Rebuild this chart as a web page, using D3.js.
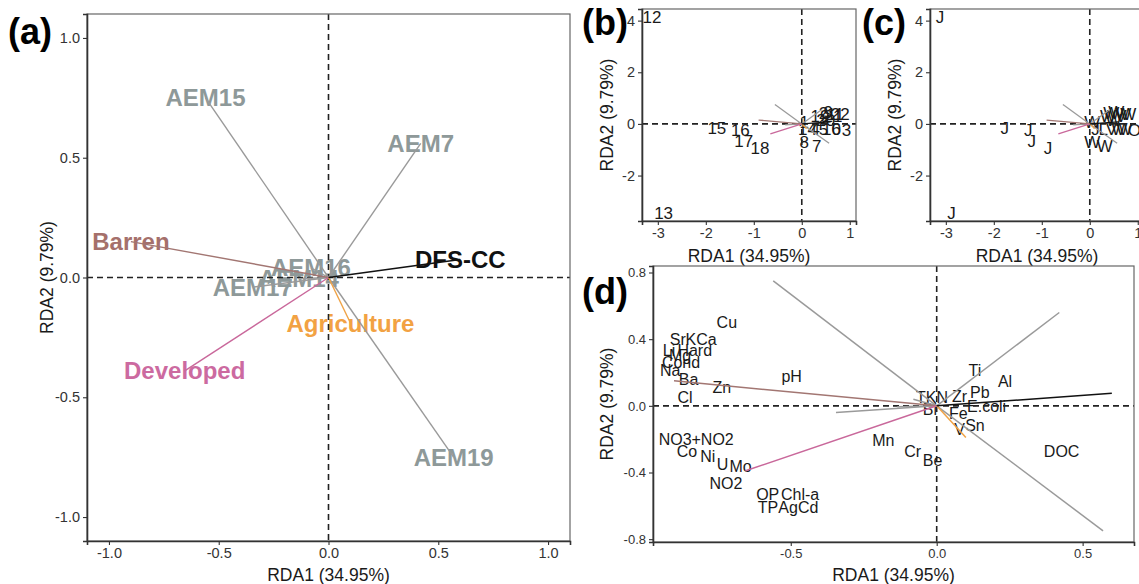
<!DOCTYPE html>
<html><head><meta charset="utf-8">
<script src="https://cdn.jsdelivr.net/npm/d3@7"></script>
<style>body{margin:0;background:#fff}svg{display:block}</style>
</head><body>
<svg id="chart" width="1139" height="584"></svg>
<script>
// ---------- DATA ----------
const arrowNames = ["AEM15","AEM7","AEM19","AEM16","AEM14","AEM17","Barren","Developed","Agriculture","DFS-CC"];
const arrowX = [-0.56, 0.42, 0.57, -0.08, -0.135, -0.345, -0.90, -0.655, 0.10, 0.60];
const arrowY = [0.75, 0.56, -0.75, 0.04, -0.005, -0.04, 0.15, -0.39, -0.19, 0.075];
const arrowKind = ["aem","aem","aem","aem","aem","aem","barren","developed","agriculture","dfs"];

const siteIds    = ["1","2","3","4","5","6","7","8","9","10","11","12","13","14","15","16","17","18","19","20","21","22"];
const siteGroups = ["W","W","O","L","V","W","W","W","W","W","W","J","J","J","J","J","J","J","W","W","V","W"];
const siteX = [0.05, 0.45, 0.93, 0.28, 0.45, 0.72, 0.31, 0.05, 0.55, 0.62, 0.70, -3.12, -2.88, 0.12, -1.77, -1.28, -1.21, -0.87, 0.38, 0.50, 0.65, 0.80];
const siteY = [0.05, 0.40, -0.25, -0.22, -0.22, -0.20, -0.88, -0.72, 0.45, -0.22, 0.35, 4.14, -3.46, -0.22, -0.17, -0.26, -0.69, -0.94, 0.30, 0.15, 0.30, 0.35];

const varNames = ["Cu","Sr","K","Ca","Li","Hard","Mg","Cond","Na","Ba","Zn","Cl","pH","NO3+NO2","Co","Ni","U","Mo","NO2","OP","Chl-a","TP","Ag","Cd",
                  "Ti","Al","TKN","Zr","Pb","E.coli","Bi","Fe","Sn","V","Mn","Cr","Be","DOC"];
const varX = [-0.719,-0.887,-0.842,-0.789,-0.917,-0.829,-0.879,-0.876,-0.913,-0.850,-0.736,-0.862,-0.497,-0.824,-0.856,-0.784,-0.734,-0.672,-0.722,-0.579,-0.468,-0.578,-0.509,-0.440,
              0.131,0.234,-0.016,0.078,0.148,0.171,-0.023,0.074,0.131,0.078,-0.183,-0.082,-0.014,0.428];
const varY = [0.498,0.400,0.400,0.400,0.335,0.335,0.300,0.258,0.215,0.158,0.110,0.050,0.178,-0.200,-0.276,-0.302,-0.352,-0.362,-0.466,-0.532,-0.532,-0.607,-0.607,-0.607,
              0.214,0.144,0.050,0.058,0.078,-0.002,-0.022,-0.046,-0.116,-0.142,-0.210,-0.276,-0.326,-0.276];

const aTicks = [-1, -0.5, 0, 0.5, 1];
const aTickLabels = ["-1.0","-0.5","0.0","0.5","1.0"];
const bxTicks = [-3,-2,-1,0,1];
const bxTickLabels = ["-3","-2","-1","0","1"];
const byTicks = [-2,0,2,4];
const byTickLabels = ["-2","0","2","4"];
const dxTicks = [-0.5,0,0.5];
const dxTickLabels = ["-0.5","0.0","0.5"];
const dyTicks = [-0.8,-0.4,0,0.4,0.8];
const dyTickLabels = ["-0.8","-0.4","0.0","0.4","0.8"];

const xTitle = "RDA1 (34.95%)";
const yTitle = "RDA2 (9.79%)";

// ---------- STYLE ----------
const FONT = "'Liberation Sans', Arial, Helvetica, sans-serif";
const lineCol = {aem:"#9a9a9a", barren:"#a27672", developed:"#c9689b", agriculture:"#f0a346", dfs:"#111"};
const textCol = {aem:"#8e9999", barren:"#a5706b", developed:"#cc6aa0", agriculture:"#f2a243", dfs:"#111"};

const svg = d3.select("#chart").style("font-family", FONT);
const arrows = arrowNames.map((n,i)=>({name:n, x:arrowX[i], y:arrowY[i], kind:arrowKind[i]}));
const sites = siteIds.map((s,i)=>({id:s, g:siteGroups[i], x:siteX[i], y:siteY[i]}));
const vars = varNames.map((n,i)=>({name:n, x:varX[i], y:varY[i]}));

function makePanel(c) {
  const g = svg.append("g");
  const clipId = "clip" + c.id;
  svg.append("clipPath").attr("id", clipId).append("rect")
    .attr("x", c.x0).attr("y", c.y0).attr("width", c.x1 - c.x0).attr("height", c.y1 - c.y0);
  const x = d3.scaleLinear().domain(c.xdom).range([c.x0, c.x1]);
  const y = d3.scaleLinear().domain(c.ydom).range([c.y1, c.y0]);
  const inner = g.append("g").attr("clip-path", `url(#${clipId})`);
  g.append("rect").attr("x", c.x0).attr("y", c.y0).attr("width", c.x1 - c.x0).attr("height", c.y1 - c.y0)
    .attr("fill", "none").attr("stroke", "#666").attr("stroke-width", 1.2);
  const xa = g.append("g").attr("transform", `translate(0,${c.y1})`)
    .call(d3.axisBottom(x).tickValues(c.xt).tickFormat((d,i)=>c.xtl[i]).tickSizeOuter(0).tickSize(4).tickPadding(3));
  const ya = g.append("g").attr("transform", `translate(${c.x0},0)`)
    .call(d3.axisLeft(y).tickValues(c.yt).tickFormat((d,i)=>c.ytl[i]).tickSizeOuter(0).tickSize(4).tickPadding(3));
  [xa, ya].forEach(a => {
    a.select(".domain").attr("stroke", "#333").attr("stroke-width", 1.6);
    a.selectAll(".tick line").attr("stroke", "#333").attr("stroke-width", 1.1);
    a.selectAll(".tick text").attr("fill", "#333").style("font-size", c.tickFs + "px").style("font-family", FONT);
  });
  g.append("text").attr("x", (c.x0 + c.x1) / 2).attr("y", c.xtY).attr("text-anchor", "middle")
    .attr("dominant-baseline", "central").style("font-size", "17.5px").attr("fill", "#1a1a1a").text(xTitle);
  g.append("text").attr("transform", `translate(${c.ytX},${(c.y0 + c.y1) / 2}) rotate(-90)`).attr("text-anchor", "middle")
    .attr("dominant-baseline", "central").style("font-size", "17.5px").attr("fill", "#1a1a1a").text(yTitle);
  g.append("text").attr("x", c.lx).attr("y", c.ly).style("font-size", "36px").style("font-weight", "bold")
    .attr("fill", "#000").text(c.letter);
  return {x, y, inner};
}

function drawZeroLines(p, c) {
  p.inner.append("line").attr("x1", c.x0).attr("x2", c.x1).attr("y1", p.y(0)).attr("y2", p.y(0))
    .attr("stroke", "#222").attr("stroke-width", 1.6).attr("stroke-dasharray", "6,4");
  p.inner.append("line").attr("x1", p.x(0)).attr("x2", p.x(0)).attr("y1", c.y0).attr("y2", c.y1)
    .attr("stroke", "#222").attr("stroke-width", 1.6).attr("stroke-dasharray", "6,4");
}
function drawArrows(p, w) {
  p.inner.selectAll(null).data(arrows).join("line")
    .attr("x1", p.x(0)).attr("y1", p.y(0)).attr("x2", d => p.x(d.x)).attr("y2", d => p.y(d.y))
    .attr("stroke", d => lineCol[d.kind]).attr("stroke-width", w);
}

// ---------- PANEL (a) ----------
const ca = {id:"a", x0:87, x1:570, y0:14, y1:541, xdom:[-1.1,1.1], ydom:[-1.1,1.1],
  xt:aTicks, xtl:aTickLabels, yt:aTicks, ytl:aTickLabels, tickFs:14.5, xtY:575, ytX:47, lx:8, ly:44, letter:"(a)"};
const pa = makePanel(ca);
pa.inner.selectAll(null).data(arrows).join("text")
  .attr("x", d => pa.x(d.x)).attr("y", d => pa.y(d.y)).attr("text-anchor", "middle").attr("dominant-baseline", "central")
  .style("font-size", "24px").style("font-weight", "bold").attr("fill", d => textCol[d.kind]).text(d => d.name);
drawZeroLines(pa, ca);
drawArrows(pa, 1.4);

// ---------- PANEL (b) ----------
const cb = {id:"b", x0:642, x1:856, y0:9, y1:221, xdom:[-3.33,1.13], ydom:[-3.76,4.45],
  xt:bxTicks, xtl:bxTickLabels, yt:byTicks, ytl:byTickLabels, tickFs:14.5, xtY:256, ytX:607, lx:582, ly:35, letter:"(b)"};
const pb = makePanel(cb);
pb.inner.selectAll(null).data(sites).join("text")
  .attr("x", d => pb.x(d.x)).attr("y", d => pb.y(d.y)).attr("text-anchor", "middle").attr("dominant-baseline", "central")
  .style("font-size", "17px").attr("fill", "#1a1a1a").text(d => d.id);
drawZeroLines(pb, cb);
drawArrows(pb, 1.3);

// ---------- PANEL (c) ----------
const cc = {id:"c", x0:930, x1:1144, y0:9, y1:221, xdom:[-3.33,1.13], ydom:[-3.76,4.45],
  xt:bxTicks, xtl:bxTickLabels, yt:byTicks, ytl:byTickLabels, tickFs:14.5, xtY:256, ytX:895, lx:862, ly:35, letter:"(c)"};
const pc = makePanel(cc);
pc.inner.selectAll(null).data(sites).join("text")
  .attr("x", d => pc.x(d.x)).attr("y", d => pc.y(d.y)).attr("text-anchor", "middle").attr("dominant-baseline", "central")
  .style("font-size", "17px").attr("fill", "#1a1a1a").text(d => d.g);
drawZeroLines(pc, cc);
drawArrows(pc, 1.3);

// ---------- PANEL (d) ----------
const cd = {id:"d", x0:653, x1:1134, y0:266, y1:542, xdom:[-0.972,0.676], ydom:[-0.817,0.839],
  xt:dxTicks, xtl:dxTickLabels, yt:dyTicks, ytl:dyTickLabels, tickFs:13, xtY:575, ytX:607, lx:582, ly:304, letter:"(d)"};
const pd = makePanel(cd);
pd.inner.selectAll(null).data(vars).join("text")
  .attr("x", d => pd.x(d.x)).attr("y", d => pd.y(d.y)).attr("text-anchor", "middle").attr("dominant-baseline", "central")
  .style("font-size", "16px").attr("fill", "#1a1a1a").text(d => d.name);
drawZeroLines(pd, cd);
drawArrows(pd, 1.5);
</script>
</body></html>
